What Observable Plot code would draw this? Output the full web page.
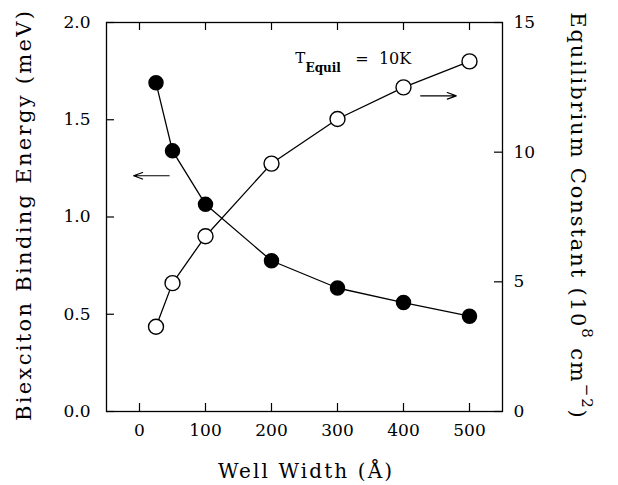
<!DOCTYPE html>
<html><head><meta charset="utf-8">
<script src="https://cdn.jsdelivr.net/npm/d3@7"></script>
<script src="https://cdn.jsdelivr.net/npm/@observablehq/plot@0.6"></script>
<style>body{margin:0;background:#fff}</style>
</head><body><div id="chart"></div><script>
const wellWidth = [25, 50, 100, 200, 300, 400, 500];
const bindingEnergy = [1.69, 1.34, 1.065, 0.775, 0.635, 0.56, 0.49];
const equilibriumConstant = [3.27, 4.95, 6.76, 9.56, 11.28, 12.5, 13.5];
const xTicks = [0, 100, 200, 300, 400, 500];
const leftTicks = [0, 0.5, 1.0, 1.5, 2.0];
const rightTicks = [0, 5, 10, 15];
const leftMax = 2, rightMax = 15;
const toLeft = v => v * leftMax / rightMax;

const energyData = wellWidth.map((w, i) => ({w, v: bindingEnergy[i]}));
const constData = wellWidth.map((w, i) => ({w, v: toLeft(equilibriumConstant[i])}));

const W = 618, H = 485, mL = 106, mR = 116, mT = 22, mB = 74;
const plotW = W - mL - mR, plotH = H - mT - mB;
const font = '"DejaVu Serif", serif';

const chart = Plot.plot({
  width: W, height: H,
  marginLeft: mL, marginRight: mR, marginTop: mT, marginBottom: mB,
  style: {fontFamily: font, fontSize: "17px", color: "black", background: "white"},
  x: {domain: [-50, 550]},
  y: {domain: [0, 2]},
  marks: [
    Plot.frame({stroke: "black", strokeWidth: 1.3}),
    Plot.tickX(xTicks, {x: d => d, insetTop: plotH - 8, stroke: "black", strokeWidth: 1.2}),
    Plot.tickX(xTicks, {x: d => d, insetBottom: plotH - 8, stroke: "black", strokeWidth: 1.2}),
    Plot.tickY(leftTicks, {y: d => d, insetRight: plotW - 8, stroke: "black", strokeWidth: 1.2}),
    Plot.tickY(rightTicks.map(toLeft), {y: d => d, insetLeft: plotW - 8, stroke: "black", strokeWidth: 1.2}),
    Plot.axisX({ticks: xTicks, tickSize: 0, tickPadding: 12, label: null, tickFormat: d => String(d)}),
    Plot.axisY({ticks: leftTicks, tickSize: 0, tickPadding: 16, label: null, tickFormat: d3.format(".1f")}),
    Plot.axisY({anchor: "right", ticks: rightTicks.map(toLeft), tickSize: 0, tickPadding: 11, label: null,
      tickFormat: d => String(Math.round(d * rightMax / leftMax))}),
    Plot.line(energyData, {x: "w", y: "v", stroke: "black", strokeWidth: 1.3}),
    Plot.line(constData, {x: "w", y: "v", stroke: "black", strokeWidth: 1.3}),
    Plot.dot(energyData, {x: "w", y: "v", r: 7, fill: "black", stroke: "black"}),
    Plot.dot(constData, {x: "w", y: "v", r: 7.5, fill: "white", stroke: "black", strokeWidth: 1.4}),
    Plot.arrow([0], {x1: 45, y1: 1.212, x2: -9, y2: 1.212, bend: 0, headLength: 12, headAngle: 40, stroke: "black", strokeWidth: 1.2}),
    Plot.arrow([0], {x1: 426, y1: 1.623, x2: 480, y2: 1.623, bend: 0, headLength: 12, headAngle: 40, stroke: "black", strokeWidth: 1.2}),
    Plot.text(["T"], {text: d => d, x: 236, y: 1.79, textAnchor: "start", lineAnchor: "bottom", fontSize: 15, fill: "black"}),
    Plot.text(["Equil"], {text: d => d, x: 251.5, y: 1.745, textAnchor: "start", lineAnchor: "bottom", fontSize: 12, fontWeight: "bold", fill: "black"}),
    Plot.text(["=  10K"], {text: d => d, x: 327, y: 1.785, textAnchor: "start", lineAnchor: "bottom", fontSize: 16, fill: "black"})
  ]
});

document.getElementById("chart").append(chart);
const svg = d3.select(chart);

svg.append("text")
  .attr("x", 305).attr("y", 478)
  .attr("text-anchor", "middle")
  .attr("font-family", font).attr("font-size", 20).attr("fill", "black")
  .attr("textLength", 174).attr("lengthAdjust", "spacing")
  .text("Well Width (Å)");

svg.append("text")
  .attr("transform", "translate(24,216) rotate(-90)")
  .attr("text-anchor", "middle").attr("dominant-baseline", "central")
  .attr("font-family", font).attr("font-size", 21).attr("fill", "black")
  .attr("textLength", 410).attr("lengthAdjust", "spacing")
  .text("Biexciton Binding Energy (meV)");

const rl = svg.append("text")
  .attr("transform", "translate(578,216) rotate(90)")
  .attr("text-anchor", "middle").attr("dominant-baseline", "central")
  .attr("font-family", font).attr("font-size", 21).attr("letter-spacing", 1.9).attr("fill", "black");
rl.append("tspan").text("Equilibrium Constant (10");
rl.append("tspan").attr("dy", -9).attr("font-size", 15).text("8");
rl.append("tspan").attr("dy", 9).text(" cm");
rl.append("tspan").attr("dy", -9).attr("font-size", 15).text("−2");
rl.append("tspan").attr("dy", 9).text(")");
</script></body></html>
